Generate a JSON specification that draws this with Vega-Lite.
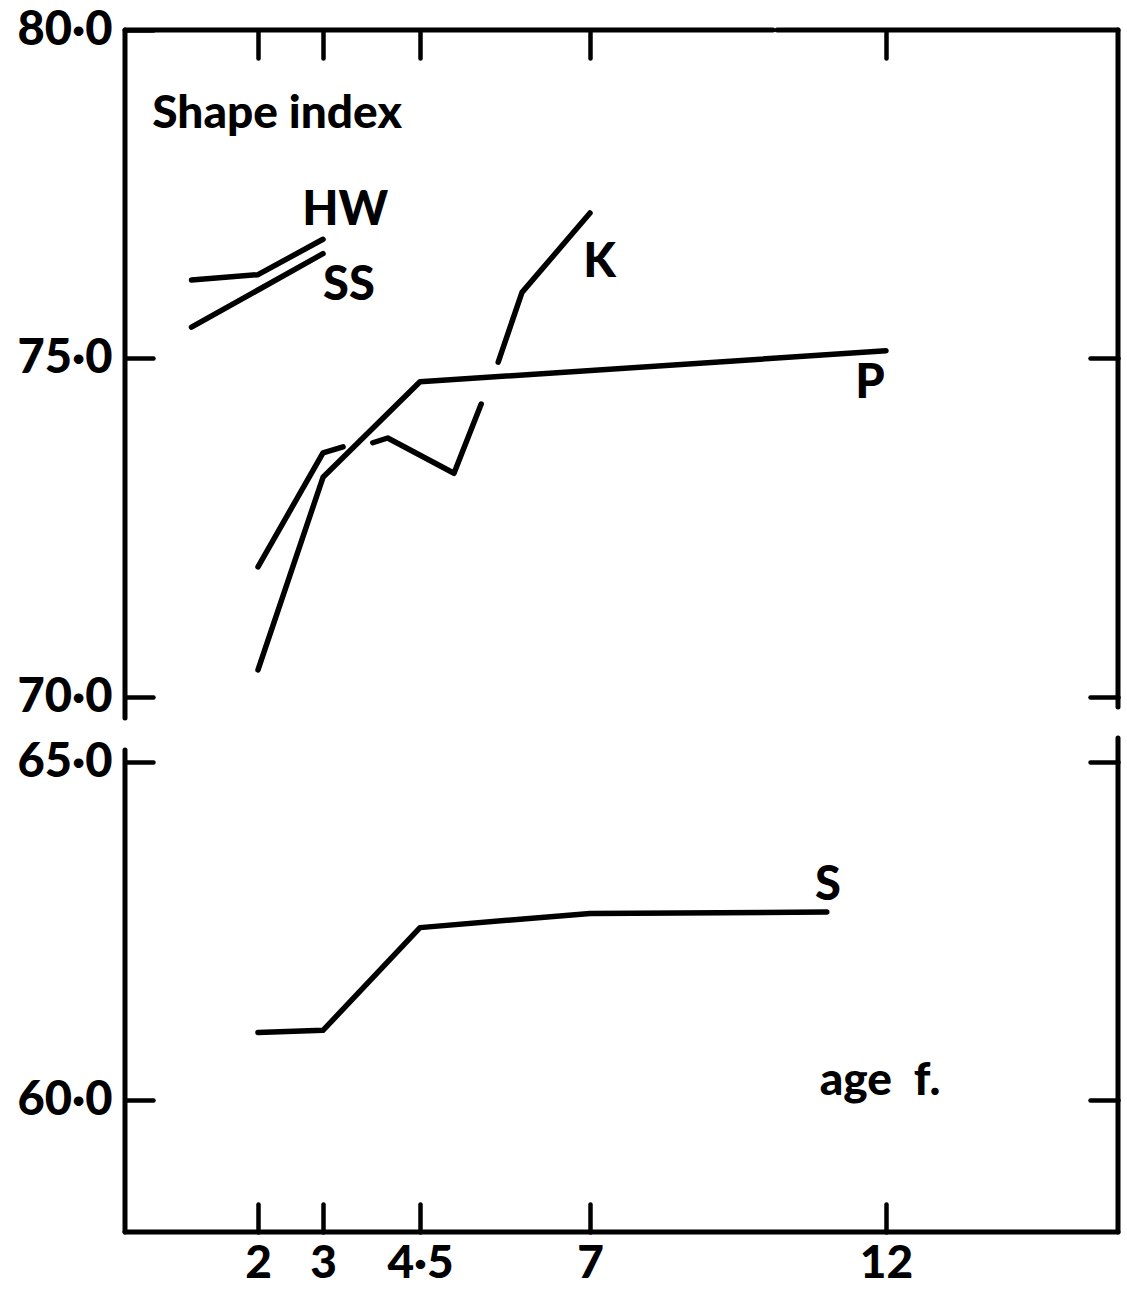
{
  "$schema": "https://vega.github.io/schema/vega-lite/v6.json",
  "width": 993,
  "height": 1202,
  "padding": {"left": 125, "top": 30, "right": 9, "bottom": 57},
  "autosize": {"type": "none"},
  "background": "white",
  "config": {
    "view": {"stroke": null},
    "font": "Lato",
    "axis": {
      "domain": false,
      "grid": false,
      "title": null,
      "tickColor": "black",
      "tickWidth": 4.5,
      "tickSize": -28,
      "tickCap": "round",
      "labelFont": "Lato",
      "labelFontWeight": 900,
      "labelFontSize": 47,
      "labelColor": "black",
      "labelFlush": false,
      "labelOverlap": false
    }
  },
  "datasets": {
    "lines": [
      {"series": "HW", "age": 1, "value": 76.19},
      {"series": "HW", "age": 2, "value": 76.27},
      {"series": "HW", "age": 3, "value": 76.81},
      {"series": "SS", "age": 1, "value": 75.47},
      {"series": "SS", "age": 3, "value": 76.59},
      {"series": "K-a", "age": 2, "value": 71.92},
      {"series": "K-a", "age": 3, "value": 73.6},
      {"series": "K-a", "age": 3.31, "value": 73.69},
      {"series": "K-b", "age": 3.77, "value": 73.75},
      {"series": "K-b", "age": 4, "value": 73.82},
      {"series": "K-b", "age": 5, "value": 73.3},
      {"series": "K-b", "age": 5.4, "value": 74.32},
      {"series": "K-c", "age": 5.65, "value": 74.94},
      {"series": "K-c", "age": 6, "value": 76.0},
      {"series": "K-c", "age": 7, "value": 77.21},
      {"series": "P", "age": 2, "value": 70.4},
      {"series": "P", "age": 3, "value": 73.24},
      {"series": "P", "age": 4.5, "value": 74.65},
      {"series": "P", "age": 12, "value": 75.11},
      {"series": "S", "age": 2, "value": 61.0},
      {"series": "S", "age": 3, "value": 61.03},
      {"series": "S", "age": 4.5, "value": 62.55},
      {"series": "S", "age": 7, "value": 62.76},
      {"series": "S", "age": 11, "value": 62.78}
    ],
    "labels": [
      {"kind": "series", "label": "HW", "age": 2.68, "value": 77.03},
      {"kind": "series", "label": "SS", "age": 3.0, "value": 75.88},
      {"kind": "series", "label": "K", "age": 6.9, "value": 76.23},
      {"kind": "series", "label": "P", "age": 11.48, "value": 74.41},
      {"kind": "series", "label": "S", "age": 10.8, "value": 62.96},
      {"kind": "note", "label": "Shape index", "age": 0.41, "value": 78.51},
      {"kind": "note", "label": "age\u00a0\u00a0f.", "age": 10.88, "value": 60.07}
    ]
  },
  "resolve": {"axis": {"x": "independent", "y": "independent"}},
  "layer": [
    {
      "data": {"name": "lines"},
      "mark": {"type": "line", "color": "black", "strokeWidth": 5.5, "strokeCap": "round", "strokeJoin": "round"},
      "encoding": {
        "x": {
          "field": "age", "type": "quantitative",
          "scale": {"domain": [0, 2, 3, 4.5, 7, 12, 15.9], "range": [0, 133, 198, 295, 465, 761, 993], "nice": false, "zero": false},
          "axis": {"orient": "bottom", "values": [2, 3, 4.5, 7, 12], "labelPadding": 37, "labelFontSize": 46, "labelExpr": "datum.value == 4.5 ? '4·5' : datum.label"}
        },
        "y": {
          "field": "value", "type": "quantitative",
          "scale": {"domain": [58.05, 60, 65, 70, 75, 80], "range": [1202, 1070, 732, 667, 328, 0], "nice": false, "zero": false},
          "axis": {"orient": "left", "values": [60, 65, 70, 75, 80], "labelPadding": 41, "labelExpr": "replace(format(datum.value, '.1f'), '.', '·')"}
        },
        "detail": {"field": "series"},
        "order": {"field": "age"}
      }
    },
    {
      "data": {"name": "labels"},
      "transform": [{"filter": "datum.kind == 'series'"}],
      "mark": {"type": "text", "font": "Lato", "fontWeight": 900, "fontSize": 47, "align": "left", "baseline": "alphabetic", "color": "black"},
      "encoding": {
        "x": {"field": "age", "type": "quantitative", "axis": {"orient": "top", "values": [2, 3, 4.5, 7, 12], "labels": false}},
        "y": {"field": "value", "type": "quantitative", "axis": {"orient": "right", "values": [60, 65, 70, 75], "labels": false}},
        "text": {"field": "label"}
      }
    },
    {
      "data": {"name": "labels"},
      "transform": [{"filter": "datum.kind == 'note'"}],
      "mark": {"type": "text", "font": "Lato", "fontWeight": 900, "fontSize": 46, "align": "left", "baseline": "alphabetic", "color": "black"},
      "encoding": {
        "x": {"field": "age", "type": "quantitative", "axis": null},
        "y": {"field": "value", "type": "quantitative", "axis": null},
        "text": {"field": "label"}
      }
    },
    {
      "data": {"values": [{}]},
      "mark": {"type": "rule", "color": "black", "strokeWidth": 5, "strokeCap": "round"},
      "encoding": {"x": {"datum": 0, "type": "quantitative", "axis": null}, "y": {"datum": 58.05, "type": "quantitative", "axis": null}, "y2": {"datum": 65.92}}
    },
    {
      "data": {"values": [{}]},
      "mark": {"type": "rule", "color": "black", "strokeWidth": 5, "strokeCap": "round"},
      "encoding": {"x": {"datum": 0, "type": "quantitative", "axis": null}, "y": {"datum": 68.38, "type": "quantitative", "axis": null}, "y2": {"datum": 80}}
    },
    {
      "data": {"values": [{}]},
      "mark": {"type": "rule", "color": "black", "strokeWidth": 5, "strokeCap": "round"},
      "encoding": {"x": {"datum": 15.9, "type": "quantitative", "axis": null}, "y": {"datum": 58.05, "type": "quantitative", "axis": null}, "y2": {"datum": 66.85}}
    },
    {
      "data": {"values": [{}]},
      "mark": {"type": "rule", "color": "black", "strokeWidth": 5, "strokeCap": "round"},
      "encoding": {"x": {"datum": 15.9, "type": "quantitative", "axis": null}, "y": {"datum": 69.23, "type": "quantitative", "axis": null}, "y2": {"datum": 80}}
    },
    {
      "data": {"values": [{}]},
      "mark": {"type": "rule", "color": "black", "strokeWidth": 5, "strokeCap": "round"},
      "encoding": {"y": {"datum": 80, "type": "quantitative", "axis": null}, "x": {"datum": 0, "type": "quantitative", "axis": null}, "x2": {"datum": 10.09}}
    },
    {
      "data": {"values": [{}]},
      "mark": {"type": "rule", "color": "black", "strokeWidth": 5, "strokeCap": "round"},
      "encoding": {"y": {"datum": 80, "type": "quantitative", "axis": null}, "x": {"datum": 10.16, "type": "quantitative", "axis": null}, "x2": {"datum": 15.9}}
    },
    {
      "data": {"values": [{}]},
      "mark": {"type": "rule", "color": "black", "strokeWidth": 5, "strokeCap": "round"},
      "encoding": {"y": {"datum": 58.05, "type": "quantitative", "axis": null}, "x": {"datum": 0, "type": "quantitative", "axis": null}, "x2": {"datum": 15.9}}
    }
  ]
}
